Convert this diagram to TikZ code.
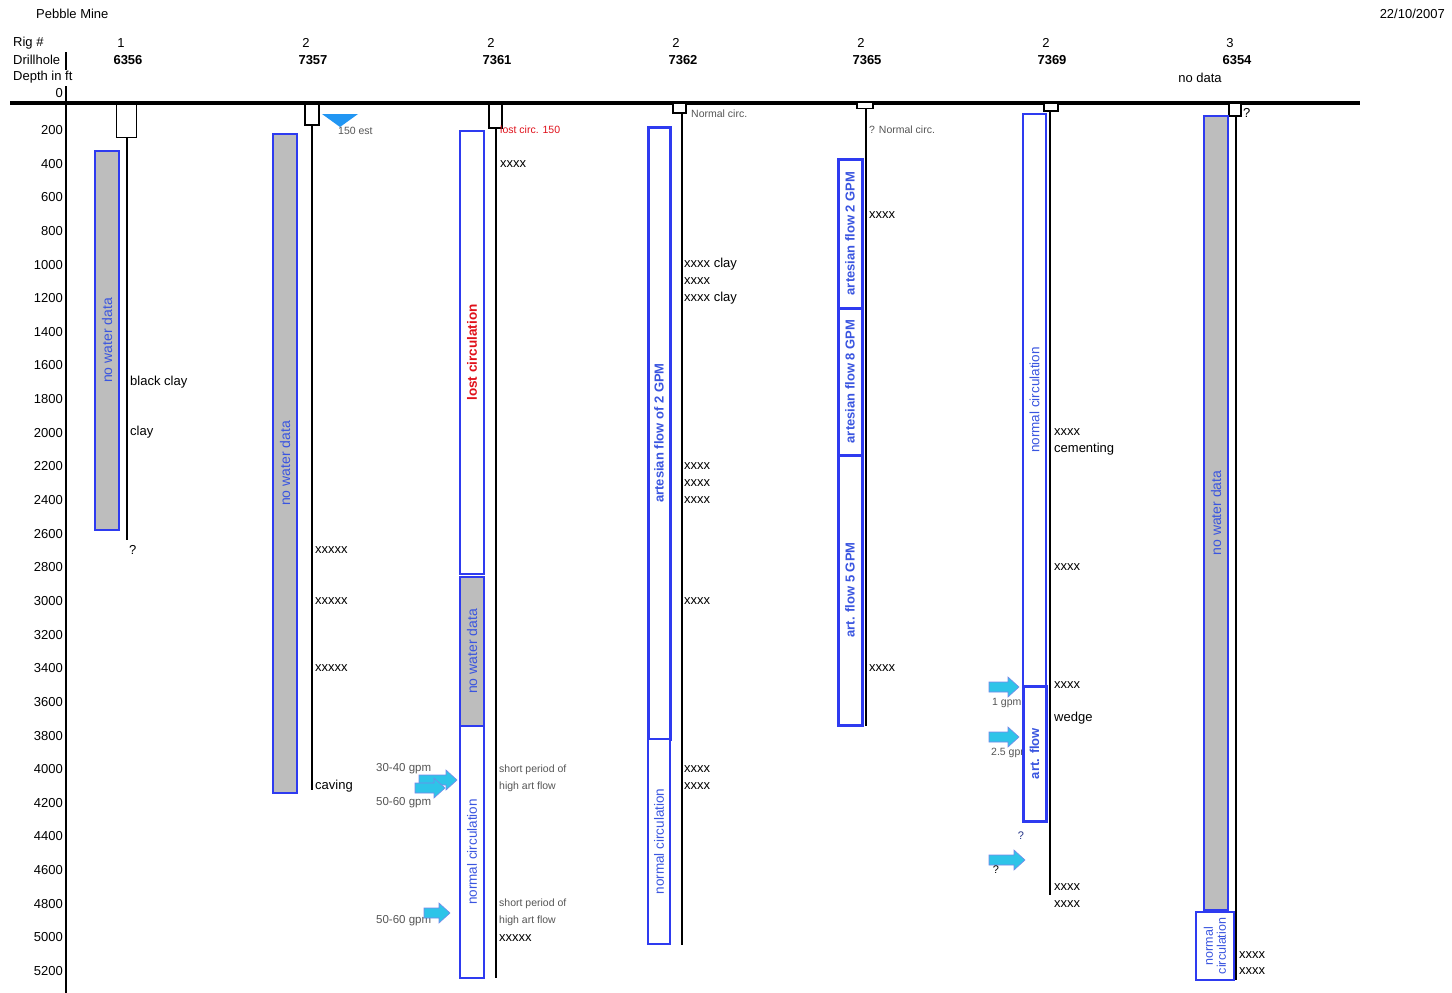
\documentclass[tikz,border=0pt]{standalone}
\usepackage{fontspec}
\setmainfont{Liberation Sans}
\definecolor{bblue}{HTML}{2E3BF0}
\definecolor{tblue}{HTML}{3A55E0}
\definecolor{grayfill}{HTML}{BDBDBD}
\definecolor{arrowcyan}{HTML}{2EC4E8}
\definecolor{tri}{HTML}{2196F3}
\definecolor{lostred}{HTML}{E0101A}
\definecolor{softgray}{HTML}{555555}
\tikzset{
  fs/.style={font=\fontsize{13}{15}\selectfont},
  lbl/.style={fs, anchor=west, inner sep=0pt},
  hdr/.style={fs, inner sep=0pt},
  hdrb/.style={font=\bfseries\fontsize{13}{15}\selectfont, inner sep=0pt},
  small/.style={font=\fontsize{10.5}{12}\selectfont, inner sep=0pt, anchor=west, text=softgray},
  gpm/.style={font=\fontsize{11.5}{13}\selectfont, inner sep=0pt, anchor=west, text=softgray},
  casing/.style={draw=black, line width=1.5pt, fill=white, inner sep=0pt},
  hole/.style={line width=1.5pt},
  bar/.style={rotate=90, inner sep=0pt, draw=bblue, line width=1.3pt, fill=white, text=tblue, font=\fontsize{13.5}{15}\selectfont},
  nodata/.style={bar, fill=grayfill, font=\fontsize{14}{16}\selectfont},
  thickbar/.style={bar, line width=3pt, font=\bfseries\fontsize{13}{15}\selectfont},
  pics/flowarr/.style={code={
    \filldraw[fill=arrowcyan, draw=tblue!70, line width=0.6pt]
      (-#1,-5) -- (#1-11,-5) -- (#1-11,-10) -- (#1,0) -- (#1-11,10) -- (#1-11,5) -- (-#1,5) -- cycle;}}
}
\begin{document}
\begin{tikzpicture}[x=1pt,y=-1pt]
\useasboundingbox[fill=white] (0,0) rectangle (1452,993);

% header
\node[lbl] (title) at (36,14) {Pebble Mine};
\node[fs, anchor=east, inner sep=0pt] (date) at (1445,14) {22/10/2007};
\node[lbl] (rig) at (13,43) {Rig \#};
\node[lbl] (dh) at (13,60) {Drillhole};
\node[lbl] (depth) at (13,77) {Depth in ft};
\node[fs, anchor=east, inner sep=0pt] (d0) at (63,93) {0};

\node[hdr] (r1) at (121,43) {1};  \node[hdrb] (h1) at (128,60) {6356};
\node[hdr] (r2) at (306,43) {2};  \node[hdrb] (h2) at (313,60) {7357};
\node[hdr] (r3) at (491,43) {2};  \node[hdrb] (h3) at (497,60) {7361};
\node[hdr] (r4) at (676,43) {2};  \node[hdrb] (h4) at (683,60) {7362};
\node[hdr] (r5) at (861,43) {2};  \node[hdrb] (h5) at (867,60) {7365};
\node[hdr] (r6) at (1046,43) {2}; \node[hdrb] (h6) at (1052,60) {7369};
\node[hdr] (r7) at (1230,43) {3}; \node[hdrb] (h7) at (1237,60) {6354};
\node[hdr] (nd7) at (1200,78) {no data};

% axis
\draw[line width=1.3pt] (66,52) -- (66,70);
\draw[line width=1.3pt] (66,86) -- (66,993);
\foreach \d in {200,400,...,5200}
  \node[fs, anchor=east, inner sep=0pt] (ax\d) at (63,{96.4+0.1682*\d}) {\d};
\draw[line width=4pt] (10,103) -- (1360,103);

% hole end coordinates
\coordinate (e1) at (127,540);
\coordinate (e2) at (312,790);
\coordinate (e3) at (496,978);
\coordinate (e4) at (682,945);
\coordinate (e5) at (866,726);
\coordinate (e6) at (1050,895);
\coordinate (e7) at (1236,980);

% casings
\node[casing, minimum width=20pt, minimum height=33pt] (c1) at (126.5,121) {};
\node[casing, minimum width=14pt, minimum height=21pt] (c2) at (312,114.5) {};
\node[casing, minimum width=13pt, minimum height=24pt] (c3) at (495.5,116) {};
\node[casing, minimum width=13pt, minimum height=10pt] (c4) at (679.5,108) {};
\node[casing, minimum width=16pt, minimum height=6pt] (c5) at (865,105.5) {};
\node[casing, minimum width=14pt, minimum height=8pt] (c6) at (1051,107) {};
\node[casing, minimum width=12pt, minimum height=13pt] (c7) at (1235,109.5) {};

% holes
\draw[hole] (c1.south -| e1) -- (e1);
\draw[hole] (c2.south -| e2) -- (e2);
\draw[hole] (c3.south -| e3) -- (e3);
\draw[hole] (c4.south -| e4) -- (e4);
\draw[hole] (c5.south -| e5) -- (e5);
\draw[hole] (c6.south -| e6) -- (e6);
\draw[hole] (c7.south -| e7) -- (e7);

% column 1
\node[nodata, minimum width=379pt, minimum height=24pt] (b1) at (107,340.5) {no water data};
\node[lbl] (t1a) at (130,382) {black clay};
\node[lbl] (t1b) at (130,432) {clay};
\node[lbl] (q1) at (129,550) {?};

% column 2
\fill[tri] (322,114) -- (358,114) -- (340,127) -- cycle;
\node[small] (t2w) at (338,131) {150 est};
\node[nodata, minimum width=659pt, minimum height=24pt] (b2) at (285,463.5) {no water data};
\node[lbl] (t2a) at (315,550) {xxxxx};
\node[lbl] (t2b) at (315,601) {xxxxx};
\node[lbl] (t2c) at (315,668) {xxxxx};
\node[lbl] (t2d) at (315,786) {caving};

% column 3
\node[small, text=lostred] (t3l) at (500,130) {lost circ. 150};
\node[lbl] (t3a) at (500,164) {xxxx};
\node[gpm] (g3a) at (376,769) {30-40 gpm};
\node[gpm] (g3b) at (376,803) {50-60 gpm};
\node[gpm] (g3c) at (376,921) {50-60 gpm};
\pic (a3a) at (438,780) {flowarr=19};
\pic (a3b) at (430,788) {flowarr=15};
\pic (a3c) at (437,913) {flowarr=13};
\node[bar, minimum width=443pt, minimum height=24pt, text=lostred, font=\bfseries\fontsize{13.5}{15}\selectfont] (b3a) at (472,352.5) {lost circulation};
\node[nodata, minimum width=149pt, minimum height=24pt] (b3b) at (472,651.5) {no water data};
\node[bar, minimum width=252pt, minimum height=24pt] (b3c) at (472,852) {normal circulation};
\node[small] (t3b) at (499,770) {short period of};
\node[small] (t3c) at (499,787) {high art flow};
\node[small] (t3d) at (499,904) {short period of};
\node[small] (t3e) at (499,921) {high art flow};
\node[lbl] (t3f) at (499,938) {xxxxx};

% column 4
\node[small] (t4n) at (691,114) {Normal circ.};
\node[thickbar, minimum width=612pt, minimum height=22pt] (b4a) at (659,433) {artesian flow of 2 GPM};
\node[bar, line width=2pt, minimum width=205pt, minimum height=22pt] (b4b) at (659,841.5) {normal circulation};
\node[lbl] (t4a) at (684,264) {xxxx clay};
\node[lbl] (t4b) at (684,281) {xxxx};
\node[lbl] (t4c) at (684,298) {xxxx clay};
\node[lbl] (t4d) at (684,466) {xxxx};
\node[lbl] (t4e) at (684,483) {xxxx};
\node[lbl] (t4f) at (684,500) {xxxx};
\node[lbl] (t4g) at (684,601) {xxxx};
\node[lbl] (t4h) at (684,769) {xxxx};
\node[lbl] (t4i) at (684,786) {xxxx};

% column 5
\node[small] (t5n) at (869,130) {? Normal circ.};
\node[thickbar, minimum width=149pt, minimum height=24pt] (b5a) at (850,233.5) {artesian flow 2 GPM};
\node[thickbar, minimum width=147pt, minimum height=24pt] (b5b) at (850,381.5) {artesian flow 8 GPM};
\node[thickbar, minimum width=270pt, minimum height=24pt] (b5c) at (850,590) {art. flow 5 GPM};
\node[lbl] (t5a) at (869,215) {xxxx};
\node[lbl] (t5b) at (869,668) {xxxx};

% column 6
\node[small] (g6a) at (992,703) {1 gpm};
\node[small] (g6b) at (991,753) {2.5 gpm};
\pic (a6a) at (1004,687) {flowarr=15};
\pic (a6b) at (1004,737) {flowarr=15};
\pic (a6c) at (1007,860) {flowarr=18};
\node[bar, minimum width=572pt, minimum height=23pt] (b6a) at (1034.5,400) {normal circulation};
\node[thickbar, minimum width=135pt, minimum height=23pt] (b6b) at (1034.5,753.5) {art. flow};
\node[hdrb, text=tblue!60!black, font=\fontsize{11}{13}\selectfont] (q6a) at (1021,836) {?};
\node[hdr, font=\fontsize{11}{13}\selectfont] (q6b) at (996,870) {?};
\node[lbl] (t6a) at (1054,432) {xxxx};
\node[lbl] (t6b) at (1054,449) {cementing};
\node[lbl] (t6c) at (1054,567) {xxxx};
\node[lbl] (t6d) at (1054,685) {xxxx};
\node[lbl] (t6e) at (1054,718) {wedge};
\node[lbl] (t6f) at (1054,887) {xxxx};
\node[lbl] (t6g) at (1054,904) {xxxx};

% column 7
\node[lbl] (q7) at (1243,113) {?};
\node[nodata, minimum width=794pt, minimum height=24pt] (b7a) at (1216,513) {no water data};
\node[bar, minimum width=68pt, minimum height=38pt, align=center, font=\fontsize{12.5}{13}\selectfont] (b7b) at (1215,946) {normal\\circulation};
\node[lbl] (t7a) at (1239,955) {xxxx};
\node[lbl] (t7b) at (1239,971) {xxxx};
\end{tikzpicture}
\end{document}
